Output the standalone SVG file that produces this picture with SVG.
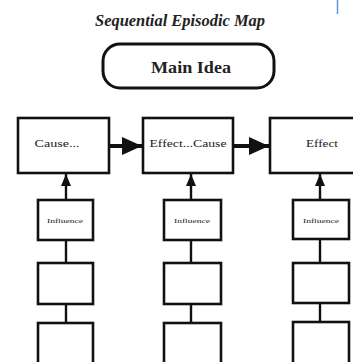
<svg xmlns="http://www.w3.org/2000/svg" width="353" height="362" viewBox="0 0 353 362">
  <style>
    .box { fill: #ffffff; stroke: #111111; stroke-width: 2.6; }
    .link { stroke: #111111; stroke-width: 2.4; fill: none; }
    .flow { stroke: #111111; stroke-width: 4; fill: none; }
    .lbl { font-family: "Liberation Serif", "DejaVu Serif", serif; fill: #222222; text-anchor: middle; }
    .small { font-size: 11px; }
    .tiny { font-size: 7px; }
  </style>
  <defs>
    <marker id="bigHead" viewBox="0 0 20 18" refX="20" refY="9" markerWidth="20" markerHeight="18" markerUnits="userSpaceOnUse" orient="auto">
      <path d="M0,0 L20,9 L0,18 Z" fill="#111111"/>
    </marker>
    <marker id="upHead" viewBox="0 0 12 10" refX="12" refY="5" markerWidth="13" markerHeight="10" markerUnits="userSpaceOnUse" orient="auto">
      <path d="M0,0 L12,5 L0,10 Z" fill="#111111"/>
    </marker>
  </defs>

  <rect width="353" height="362" fill="#ffffff"/>

  <!-- stray caret mark at top right -->
  <line x1="337.5" y1="0" x2="337.5" y2="14" stroke="#5b9bd5" stroke-width="1.5"/>

  <text x="180" y="26" class="lbl" font-size="16" font-style="italic" font-weight="bold" textLength="170" lengthAdjust="spacingAndGlyphs">Sequential Episodic Map</text>

  <g id="main-idea">
    <rect x="103" y="44" width="171" height="44" rx="17" ry="17" fill="#ffffff" stroke="#111111" stroke-width="3"/>
    <text x="191" y="73" class="lbl" font-size="17" font-weight="bold" textLength="80" lengthAdjust="spacingAndGlyphs">Main Idea</text>
  </g>

  <g id="connectors">
    <line x1="110" y1="146" x2="142" y2="146" class="flow" marker-end="url(#bigHead)"/>
    <line x1="234" y1="146" x2="269" y2="146" class="flow" marker-end="url(#bigHead)"/>
    <line x1="66" y1="199" x2="66" y2="174" class="link" marker-end="url(#upHead)"/>
    <line x1="191" y1="199" x2="191" y2="174" class="link" marker-end="url(#upHead)"/>
    <line x1="320" y1="199" x2="320" y2="174" class="link" marker-end="url(#upHead)"/>
    <line x1="66" y1="240" x2="66" y2="263" class="link"/>
    <line x1="191" y1="240" x2="191" y2="263" class="link"/>
    <line x1="320" y1="240" x2="320" y2="263" class="link"/>
    <line x1="66" y1="304" x2="66" y2="323" class="link"/>
    <line x1="191" y1="304" x2="191" y2="323" class="link"/>
    <line x1="320" y1="304" x2="320" y2="323" class="link"/>
  </g>

  <g id="cause">
    <rect x="18" y="118" width="91" height="55" class="box"/>
    <text x="57" y="147" class="lbl small" textLength="45" lengthAdjust="spacingAndGlyphs">Cause...</text>
  </g>
  <g id="effect-cause">
    <rect x="143" y="118" width="90" height="55" class="box"/>
    <text x="188" y="147" class="lbl small" textLength="77" lengthAdjust="spacingAndGlyphs">Effect...Cause</text>
  </g>
  <g id="effect">
    <rect x="270" y="118" width="95" height="55" class="box"/>
    <text x="322" y="147" class="lbl small" textLength="32" lengthAdjust="spacingAndGlyphs">Effect</text>
  </g>

  <g id="influence-1">
    <rect x="38" y="200" width="55" height="40" class="box"/>
    <text x="65" y="223" class="lbl tiny" textLength="36" lengthAdjust="spacingAndGlyphs">Influence</text>
  </g>
  <g id="influence-2">
    <rect x="164" y="200" width="57" height="40" class="box"/>
    <text x="192" y="223" class="lbl tiny" textLength="36" lengthAdjust="spacingAndGlyphs">Influence</text>
  </g>
  <g id="influence-3">
    <rect x="293" y="200" width="56" height="39" class="box"/>
    <text x="321" y="223" class="lbl tiny" textLength="36" lengthAdjust="spacingAndGlyphs">Influence</text>
  </g>

  <g id="detail-1a"><rect x="38" y="263" width="55" height="41" class="box"/></g>
  <g id="detail-2a"><rect x="164" y="263" width="57" height="41" class="box"/></g>
  <g id="detail-3a"><rect x="293" y="263" width="56" height="40" class="box"/></g>

  <g id="detail-1b"><rect x="38" y="323" width="55" height="50" class="box"/></g>
  <g id="detail-2b"><rect x="164" y="323" width="57" height="50" class="box"/></g>
  <g id="detail-3b"><rect x="293" y="322" width="56" height="51" class="box"/></g>
</svg>
